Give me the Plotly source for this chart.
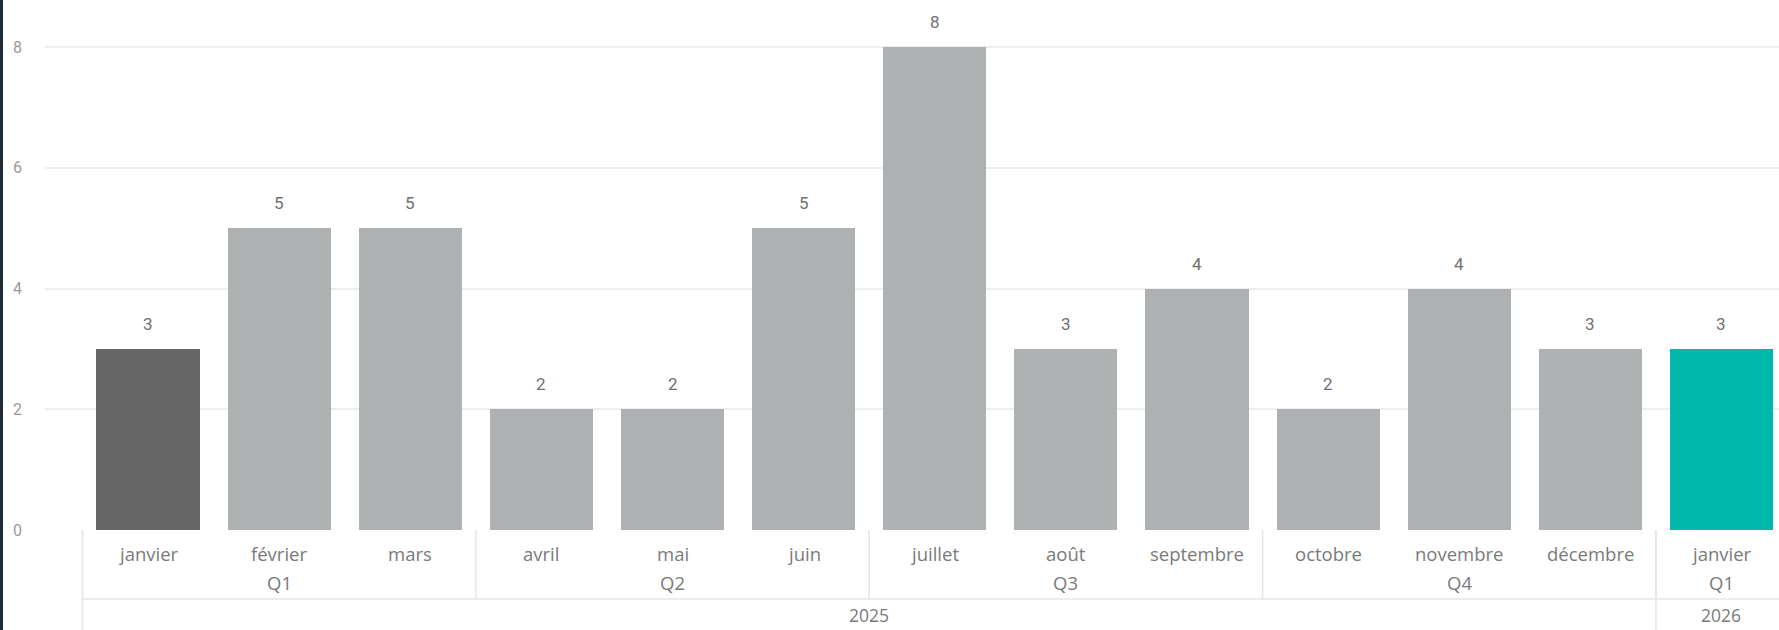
import plotly.graph_objects as go

months = ["janvier", "février", "mars", "avril", "mai", "juin", "juillet",
          "août", "septembre", "octobre", "novembre", "décembre", "janvier"]
quarters = ["Q1", "Q1", "Q1", "Q2", "Q2", "Q2", "Q3", "Q3", "Q3", "Q4", "Q4", "Q4", "Q1"]
years = ["2025"] * 12 + ["2026"]
values = [3, 5, 5, 2, 2, 5, 8, 3, 4, 2, 4, 3, 3]
y_ticks = [0, 2, 4, 6, 8]

W, H = 1779, 630
PLOT_L, PLOT_B = 45, 530          # pixel positions of plot left edge and zero line
PLOT_H = PLOT_B
n = len(values)
xs = list(range(n))

GRAY = "#ADB1B2"
DARK = "#666666"
TEAL = "#01B8AA"
colors = [DARK if i == 0 else (TEAL if i == n - 1 else GRAY) for i in xs]

fig = go.Figure()
fig.add_trace(go.Bar(x=xs, y=values, marker=dict(color=colors, line=dict(width=0)),
                     width=0.786, hoverinfo="skip", showlegend=False))

def py(pix):
    return (PLOT_B - pix) / PLOT_H

ann = []
shapes = []
num_font = dict(family="Roboto, DejaVu Sans", size=17, color="#707070")
tick_font = dict(family="Roboto, DejaVu Sans", size=16, color="#9a9a9a")
lab_font = dict(family="Open Sans, Noto Sans", size=18.5, color="#7a7a7a")
year_font = dict(family="Open Sans, Noto Sans", size=17.5, color="#7a7a7a")

# data labels
for i, v in zip(xs, values):
    ann.append(dict(x=i, y=v, xref="x", yref="y", text=str(v), showarrow=False,
                    yanchor="middle", yshift=25, font=num_font))

# month labels
for i, m in zip(xs, months):
    ann.append(dict(x=i, y=py(553), xref="x", yref="paper", text=m, showarrow=False,
                    yanchor="middle", font=lab_font))

def groups(keys):
    out = []
    start = 0
    for i in range(1, len(keys) + 1):
        if i == len(keys) or keys[i] != keys[start]:
            out.append((start, i - 1, keys[start]))
            start = i
    return out

qkeys = [y + q for y, q in zip(years, quarters)]
line_col = "#E6E6E6"
for s, e, k in groups(qkeys):
    ann.append(dict(x=(s + e) / 2, y=py(582), xref="x", yref="paper", text=quarters[s],
                    showarrow=False, yanchor="middle", font=lab_font))
    shapes.append(dict(type="line", xref="x", yref="paper", x0=s - 0.5, x1=s - 0.5,
                       y0=0, y1=py(599), line=dict(color=line_col, width=1.5)))
for s, e, k in groups(years):
    ann.append(dict(x=(s + e) / 2, y=py(615), xref="x", yref="paper", text=k,
                    showarrow=False, yanchor="middle", font=year_font))
    shapes.append(dict(type="line", xref="x", yref="paper", x0=s - 0.5, x1=s - 0.5,
                       y0=0, y1=py(H), line=dict(color=line_col, width=1.5)))

shapes.append(dict(type="line", xref="x", yref="paper", x0=-0.5, x1=n,
                   y0=py(599), y1=py(599), line=dict(color=line_col, width=1.5)))

# dark strip on left edge
plot_w = W - PLOT_L
shapes.append(dict(type="rect", xref="paper", yref="paper",
                   x0=-PLOT_L / plot_w, x1=(3 - PLOT_L) / plot_w, y0=py(H), y1=py(0),
                   fillcolor="#1E2B36", line=dict(width=0), layer="above"))

pitch = 131.1
x_lo = -(148 - PLOT_L) / pitch
x_hi = 12 + (W - 1721.5) / pitch

fig.update_layout(
    width=W, height=H,
    margin=dict(l=PLOT_L, r=0, t=0, b=H - PLOT_B, autoexpand=False),
    paper_bgcolor="white", plot_bgcolor="white",
    bargap=0,
    xaxis=dict(range=[x_lo, x_hi], showticklabels=False, showgrid=False,
               zeroline=False, showline=False, fixedrange=True, automargin=False),
    yaxis=dict(range=[0, PLOT_B / 60.375], tickvals=y_ticks, showgrid=True,
               gridcolor="#EEEEEE", gridwidth=1.5, zeroline=False, showline=False,
               tickfont=tick_font, ticklabelstandoff=22, fixedrange=True,
               automargin=False),
    annotations=ann, shapes=shapes,
)

fig.write_html("out.html", config={"displayModeBar": False},
               post_script="document.body.style.margin='0';document.body.style.overflow='hidden';")
